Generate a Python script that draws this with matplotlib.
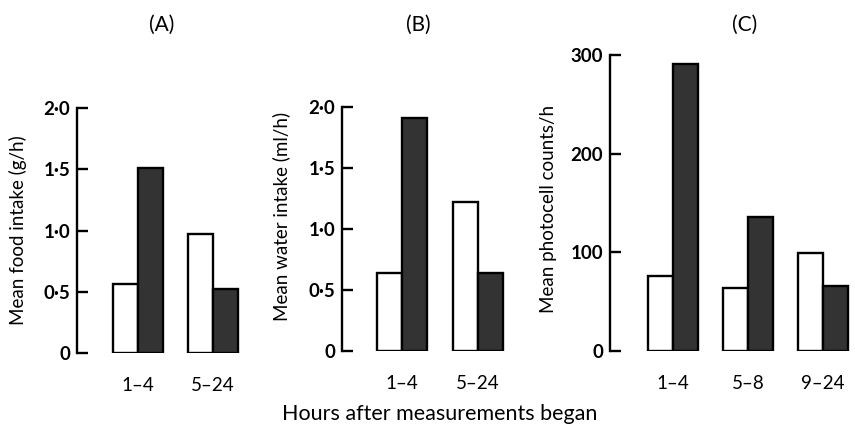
import numpy as np
import matplotlib.pyplot as plt

plt.rcParams['font.family'] = ['Lato', 'DejaVu Sans']

# panel A: food intake
food_groups = ['1–4', '5–24']
food_white = [0.56, 0.97]
food_dark = [1.51, 0.52]

# panel B: water intake
water_groups = ['1–4', '5–24']
water_white = [0.64, 1.22]
water_dark = [1.91, 0.64]

# panel C: photocell counts
photo_groups = ['1–4', '5–8', '9–24']
photo_white = [76, 64, 99]
photo_dark = [291, 136, 66]

fig = plt.figure(figsize=(8.55, 4.30), dpi=100)
W, H = 855, 430


def add_panel(left, right, top, bottom, xlim):
    ax = fig.add_axes([left / W, 1 - bottom / H, (right - left) / W, (bottom - top) / H])
    ax.set_xlim(*xlim)
    return ax


def draw(ax, groups, white, dark, yticks, yticklabels, ylabel, label_xy):
    x = np.arange(len(groups))
    bw = 0.33
    ax.bar(x - bw / 2, white, bw, color='white', edgecolor='black', linewidth=1.7)
    ax.bar(x + bw / 2, dark, bw, color='#333333', edgecolor='black', linewidth=1.7)
    ax.set_ylim(yticks[0], yticks[-1])
    ax.set_yticks(yticks)
    ax.set_yticklabels(yticklabels, fontsize=13.5, fontweight='bold')
    ax.set_xticks(x)
    ax.set_xticklabels(groups, fontsize=13.5)
    ax.tick_params(axis='x', length=0, pad=17)
    ax.tick_params(axis='y', direction='in', length=8, width=1.7, pad=5)
    for s in ['top', 'right', 'bottom']:
        ax.spines[s].set_visible(False)
    ax.spines['left'].set_linewidth(1.7)
    ax.set_ylabel(ylabel, fontsize=13.5)
    ax.yaxis.set_label_coords(*label_xy)
    ax.patch.set_visible(False)


axA = add_panel(77, 245, 108, 353, (-0.813, 1.427))
draw(axA, food_groups, food_white, food_dark, [0, 0.5, 1.0, 1.5, 2.0],
     ['0', '0·5', '1·0', '1·5', '2·0'], 'Mean food intake (g/h)', (-0.30, 0.50))

axB = add_panel(342, 510, 107, 351, (-0.79, 1.42))
draw(axB, water_groups, water_white, water_dark, [0, 0.5, 1.0, 1.5, 2.0],
     ['0', '0·5', '1·0', '1·5', '2·0'], 'Mean water intake (ml/h)', (-0.31, 0.55))

axC = add_panel(610, 855, 55, 351, (-0.84, 2.43))
draw(axC, photo_groups, photo_white, photo_dark, [0, 100, 200, 300],
     ['0', '100', '200', '300'], 'Mean photocell counts/h', (-0.215, 0.48))

fig.text(162 / W, 1 - 25 / H, '(A)', ha='center', va='center', fontsize=15)
fig.text(418 / W, 1 - 25 / H, '(B)', ha='center', va='center', fontsize=15)
fig.text(745 / W, 1 - 25 / H, '(C)', ha='center', va='center', fontsize=15)
fig.text(440 / W, 1 - 414 / H, 'Hours after measurements began', ha='center', va='center', fontsize=15.5)

fig.savefig('out.png', dpi=100)
